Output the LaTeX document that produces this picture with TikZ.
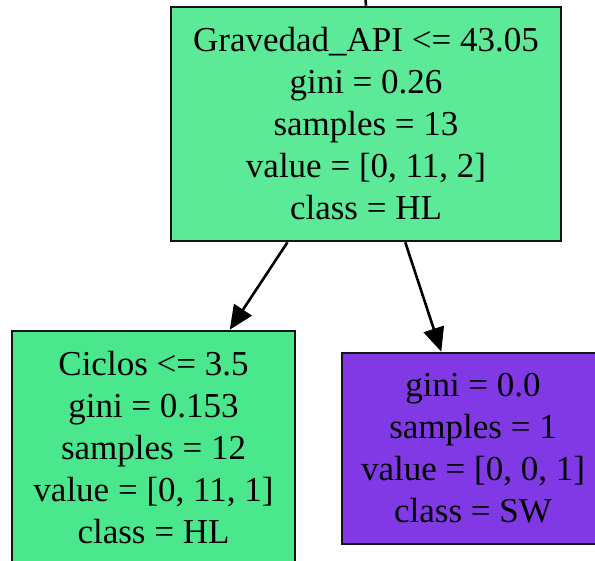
\documentclass[tikz,border=0pt]{standalone}
\usepackage{fontspec}
\setmainfont{Liberation Serif}
\usetikzlibrary{arrows.meta,calc}
\definecolor{hlroot}{HTML}{5DEA98}
\definecolor{hlleft}{HTML}{4BE78C}
\definecolor{swleaf}{HTML}{8139E5}
\definecolor{edgeink}{HTML}{141414}
\tikzset{
  treebox/.style={draw=edgeink, line width=2.6pt, rectangle, align=center,
    inner sep=0pt, font=\fontsize{35}{42}\selectfont},
  treeedge/.style={draw=black, line width=2.6pt,
    -{Triangle[length=24pt,width=21pt]}}
}
\begin{document}
\begin{tikzpicture}[x=1pt,y=-1pt]
\useasboundingbox (0,0) rectangle (595,561);
\clip (0,0) rectangle (595,561);
\fill[white] (0,0) rectangle (595,561);

\node[treebox, fill=hlroot, minimum width=390pt, minimum height=234pt]
  (root) at (366,124)
  {Gravedad\_API <= 43.05\\gini = 0.26\\samples = 13\\value = [0, 11, 2]\\class = HL};

\node[treebox, fill=hlleft, minimum width=283pt, minimum height=234pt]
  (left) at (153.5,448)
  {Ciclos <= 3.5\\gini = 0.153\\samples = 12\\value = [0, 11, 1]\\class = HL};

\node[treebox, fill=swleaf, minimum width=262pt, minimum height=191pt]
  (right) at (473,448.5)
  {gini = 0.0\\samples = 1\\value = [0, 0, 1]\\class = SW};

% edge coming in from the parent above
\coordinate (parent) at (365,-10);
\draw[draw=black, line width=2.6pt] (parent) -- (root.north);

\draw[treeedge] ($(root.south west)!0.30!(root.south east)$)
  -- ($(left.north west)!0.767!(left.north east)$);
\draw[treeedge] ($(root.south west)!0.60!(root.south east)$)
  -- ($(right.north west)!0.38!(right.north east)$);
\end{tikzpicture}
\end{document}
